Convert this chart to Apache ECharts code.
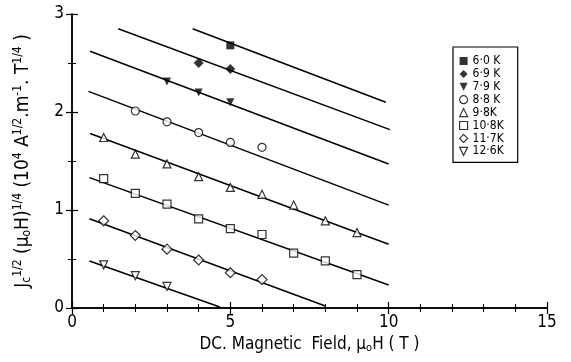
<!DOCTYPE html>
<html>
<head>
<meta charset="utf-8">
<script src="https://cdn.jsdelivr.net/npm/echarts@6/dist/echarts.min.js"></script>
<style>
  html, body { margin: 0; padding: 0; background: #fff; }
  #chart { width: 571px; height: 362px; }
</style>
</head>
<body>
<div id="chart"></div>
<script>
// temperatures (legend labels)
const seriesNames = ['6·0 K', '6·9 K', '7·9 K', '8·8 K', '9·8K', '10·8K', '11·7K', '12·6K'];

// measured points, field (T) and Jc^1/2 (uoH)^1/4
const x60 = [5];
const y60 = [2.68];
const x69 = [4, 5];
const y69 = [2.50, 2.44];
const x79 = [3, 4, 5];
const y79 = [2.31, 2.20, 2.10];
const x88 = [2, 3, 4, 5, 6];
const y88 = [2.01, 1.90, 1.79, 1.69, 1.64];
const x98 = [1, 2, 3, 4, 5, 6, 7, 8, 9];
const y98 = [1.74, 1.57, 1.47, 1.34, 1.23, 1.16, 1.05, 0.89, 0.77];
const x108 = [1, 2, 3, 4, 5, 6, 7, 8, 9];
const y108 = [1.32, 1.17, 1.06, 0.91, 0.81, 0.75, 0.56, 0.48, 0.34];
const x117 = [1, 2, 3, 4, 5, 6];
const y117 = [0.89, 0.74, 0.60, 0.49, 0.36, 0.29];
const x126 = [1, 2, 3];
const y126 = [0.44, 0.33, 0.22];

// fitted straight lines: [x start, y start, x end, y end]
const fit60 = [3.81, 2.85, 9.91, 2.10];
const fit69 = [1.46, 2.85, 10.04, 1.82];
const fit79 = [0.57, 2.62, 10.0, 1.47];
const fit88 = [0.52, 2.21, 10.0, 1.05];
const fit98 = [0.57, 1.78, 10.0, 0.65];
const fit108 = [0.55, 1.33, 10.0, 0.235];
const fit117 = [0.55, 0.91, 8.0, 0.02];
const fit126 = [0.55, 0.48, 4.67, 0.01];

const xTicks = [0, 5, 10, 15];
const yTicks = [0, 1, 2, 3];

const pointSets = [[x60, y60], [x69, y69], [x79, y79], [x88, y88], [x98, y98], [x108, y108], [x117, y117], [x126, y126]];
const fits = [fit60, fit69, fit79, fit88, fit98, fit108, fit117, fit126];

// downward triangle as a path so the legend shows it the same way
const downTri = 'path://M0,0L10,0L5,10Z';

// marker look for each temperature
const markers = [
  { symbol: 'rect', filled: true, size: 8 },
  { symbol: 'diamond', filled: true, size: 10 },
  { symbol: downTri, filled: true, size: 8 },
  { symbol: 'circle', filled: false, size: 8 },
  { symbol: 'triangle', filled: false, size: 8 },
  { symbol: 'rect', filled: false, size: 8 },
  { symbol: 'diamond', filled: false, size: 10 },
  { symbol: downTri, filled: false, size: 8 }
];

const font = "'Liberation Sans Narrow', 'DejaVu Sans Condensed', 'Liberation Sans', sans-serif";

const chart = echarts.init(document.getElementById('chart'));

const styleOf = (m) => ({
  color: m.filled ? '#000' : '#fff',
  borderColor: '#000',
  borderWidth: m.filled ? 0 : 1.2
});

const series = [];
fits.forEach((f) => {
  series.push({
    type: 'line',
    silent: true,
    symbol: 'none',
    data: [[f[0], f[1]], [f[2], f[3]]],
    lineStyle: { color: '#000', width: 1.5 },
    z: 1
  });
});
pointSets.forEach((p, i) => {
  const m = markers[i];
  series.push({
    name: seriesNames[i],
    type: 'scatter',
    symbol: m.symbol,
    symbolSize: m.size,
    data: p[0].map((x, k) => [x, p[1][k]]),
    itemStyle: styleOf(m),
    z: 3
  });
});

const frameAxis = {
  axisLine: { show: true, lineStyle: { color: '#000', width: 1.5 } },
  axisTick: { show: true, inside: true, length: 6, lineStyle: { color: '#000', width: 1.2 } },
  splitLine: { show: false }
};

const option = {
  animation: false,
  grid: { left: 72, right: 24, top: 14, bottom: 54 },
  legend: {
    data: seriesNames.map((n, i) => ({
      name: n,
      icon: markers[i].symbol,
      itemStyle: styleOf(markers[i])
    })),
    orient: 'vertical',
    left: 453,
    top: 47,
    padding: [8, 14, 5, 6],
    itemWidth: 8,
    itemHeight: 8,
    itemGap: 0.9,
    borderColor: '#000',
    borderWidth: 1.2,
    textStyle: { fontFamily: font, fontSize: 12, color: '#000', lineHeight: 10, padding: [0, 0, 0, 0] }
  },
  xAxis: [{
    type: 'value',
    min: 0,
    max: 15,
    interval: 5,
    name: '{t|DC. Magnetic  Field, μ}{s|o}{t|H ( T )}',
    nameLocation: 'middle',
    nameGap: 25,
    nameTextStyle: {
      rich: {
        t: { fontFamily: font, fontSize: 17, color: '#000' },
        s: { fontFamily: font, fontSize: 11, color: '#000', padding: [7, 0, 0, 0] }
      }
    },
    ...frameAxis,
    minorTick: { show: true, splitNumber: 5, length: 4, lineStyle: { color: '#000', width: 1 } },
    axisLabel: {
      fontFamily: font, fontSize: 17, color: '#000', margin: 6,
      formatter: (v) => (xTicks.includes(v) ? String(v) : '')
    }
  }, {
    type: 'value', min: 0, max: 15, interval: 5, position: 'top',
    ...frameAxis,
    minorTick: { show: true, splitNumber: 5, length: 4, lineStyle: { color: '#000', width: 1 } },
    axisLabel: { show: false }
  }],
  yAxis: [{
    type: 'value',
    min: 0,
    max: 3,
    interval: 1,
    name: '{t|J}{s|c}{p|1/2}{t| (μ}{s|o}{t|H)}{p|1/4}{t| (10}{p|4}{t| A}{p|1/2}{t|.m}{p|-1}{t|. T}{p|1/4}{t| )}',
    nameLocation: 'middle',
    nameGap: 38,
    nameTextStyle: {
      rich: {
        t: { fontFamily: font, fontSize: 19, color: '#000' },
        s: { fontFamily: font, fontSize: 12, color: '#000', padding: [8, 0, 0, 0] },
        p: { fontFamily: font, fontSize: 12, color: '#000', padding: [0, 0, 10, 0] }
      }
    },
    ...frameAxis,
    minorTick: { show: true, splitNumber: 2, length: 4, lineStyle: { color: '#000', width: 1 } },
    axisLabel: {
      fontFamily: font, fontSize: 17, color: '#000', margin: 8,
      formatter: (v) => (yTicks.includes(v) ? String(v) : '')
    }
  }, {
    type: 'value', min: 0, max: 3, interval: 1, position: 'right',
    ...frameAxis,
    minorTick: { show: true, splitNumber: 2, length: 4, lineStyle: { color: '#000', width: 1 } },
    axisLabel: { show: false }
  }],
  series: series
};

chart.setOption(option);
window.addEventListener('resize', () => chart.resize());
</script>
</body>
</html>
